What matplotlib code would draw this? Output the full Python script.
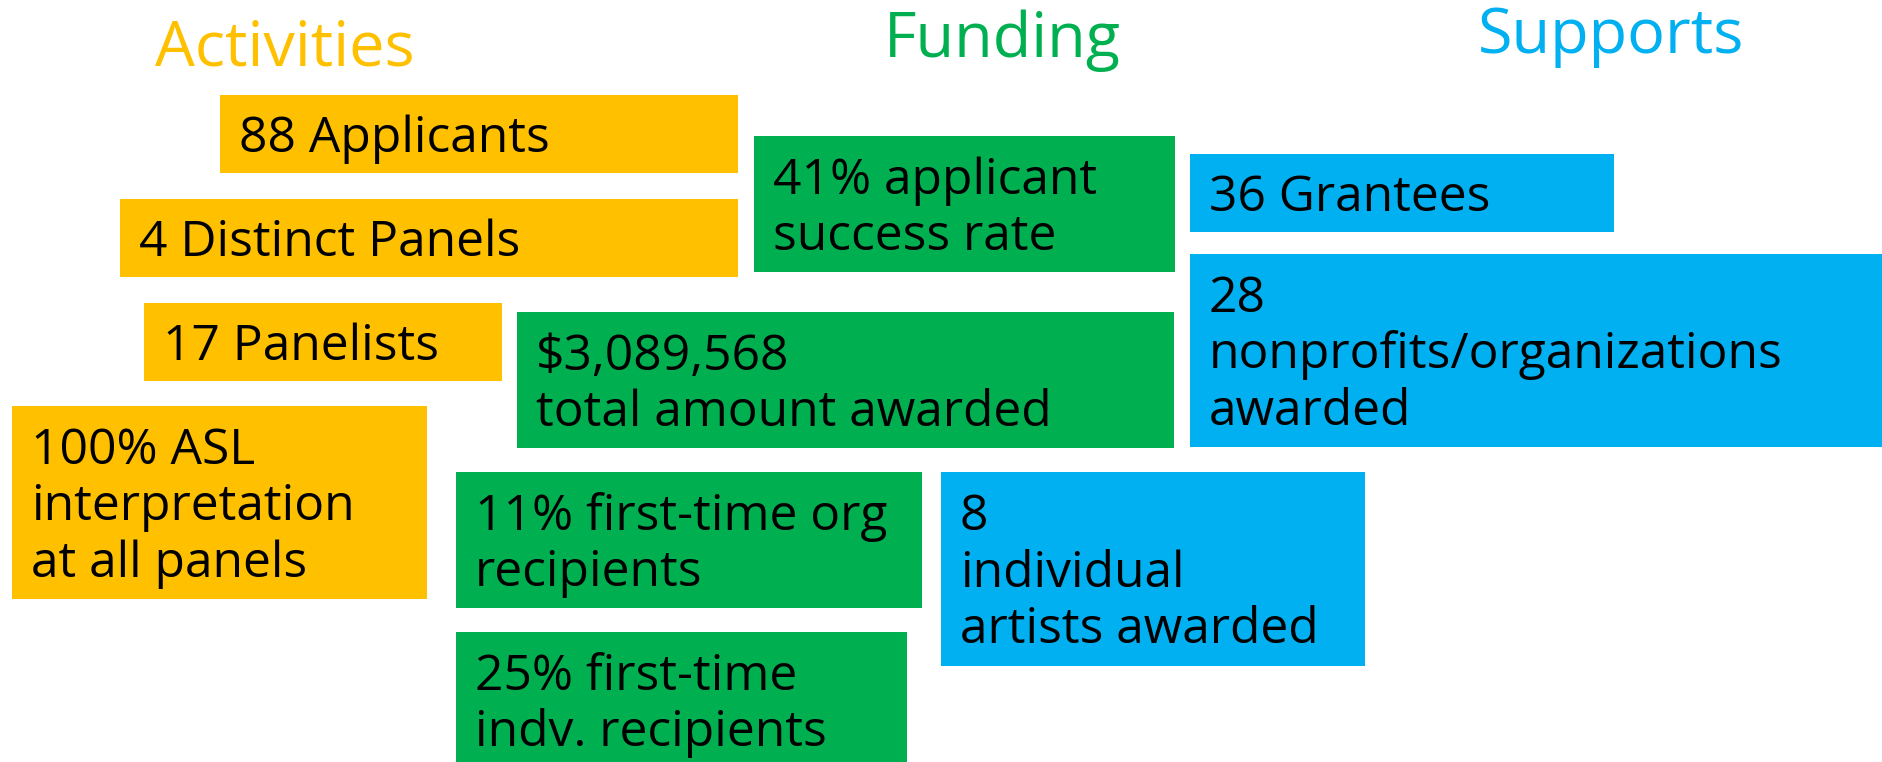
import matplotlib
matplotlib.use("Agg")
import matplotlib.pyplot as plt

# Sections and their stat boxes (text only)
sections = ["Activities", "Funding", "Supports"]
activities = ["88 Applicants", "4 Distinct Panels", "17 Panelists",
              "100% ASL\ninterpretation\nat all panels"]
funding = ["41% applicant\nsuccess rate", "$3,089,568\ntotal amount awarded",
           "11% first-time org\nrecipients", "25% first-time\nindv. recipients"]
supports = ["36 Grantees", "28\nnonprofits/organizations\nawarded",
            "8\nindividual\nartists awarded"]

# Layout in pixels: (left, top, right, bottom)
act_boxes = [(220, 95, 738, 173), (120, 199, 738, 277), (144, 303, 502, 381), (12, 406, 427, 599)]
fund_boxes = [(754, 136, 1175, 272), (517, 312, 1174, 448), (456, 472, 922, 608), (456, 632, 907, 768)]
sup_boxes = [(1190, 154, 1614, 232), (1190, 254, 1882, 447), (941, 472, 1365, 666)]
title_pos = [(285, 65), (1002, 57), (1611, 53)]

colors = ["#FFC000", "#00B050", "#00B0F0"]

W, H = 1882, 762
FONT = "Open Sans"
CAP_RATIO = 0.714
cap = 35.5    # cap height in px
line_gap = 56.5
fs = cap / CAP_RATIO * 72 / 100
title_fs = 45 / CAP_RATIO * 72 / 100

fig = plt.figure(figsize=(W / 100, H / 100), dpi=100)
ax = fig.add_axes([0, 0, 1, 1])
ax.set_xlim(0, W)
ax.set_ylim(H, 0)
ax.axis("off")

groups = [(activities, act_boxes), (funding, fund_boxes), (supports, sup_boxes)]
for (labels, boxes), color, name, (tx, ty) in zip(groups, colors, sections, title_pos):
    ax.text(tx, ty, name, color=color, fontsize=title_fs, family=FONT,
            ha="center", va="baseline")
    for label, (l, t, r, b) in zip(labels, boxes):
        ax.barh((t + b) / 2, r - l, left=l, height=b - t, color=color, linewidth=0)
        lines = label.split("\n")
        mid = (t + b) / 2
        top = mid - ((len(lines) - 1) * line_gap + cap) / 2
        for i, line in enumerate(lines):
            ax.text(l + 19, top + cap + i * line_gap, line.replace("$", r"\$"),
                    fontsize=fs, family=FONT, color="black", ha="left", va="baseline")

fig.savefig("out.png", dpi=100)
